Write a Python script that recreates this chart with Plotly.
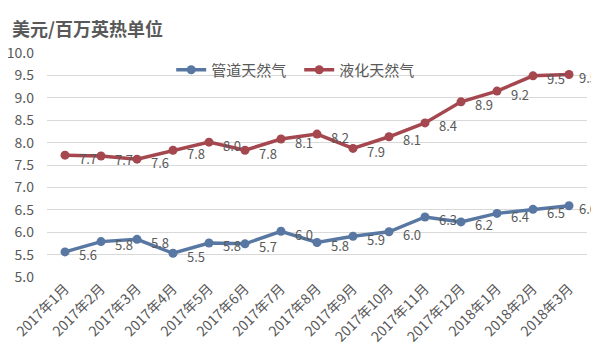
import plotly.graph_objects as go

months = ["2017年1月", "2017年2月", "2017年3月", "2017年4月", "2017年5月", "2017年6月",
          "2017年7月", "2017年8月", "2017年9月", "2017年10月", "2017年11月", "2017年12月",
          "2018年1月", "2018年2月", "2018年3月"]
pipeline = [5.56, 5.79, 5.84, 5.53, 5.76, 5.74, 6.02, 5.77, 5.91, 6.01, 6.34, 6.23, 6.42, 6.51, 6.59]
lng = [7.72, 7.70, 7.63, 7.83, 8.01, 7.83, 8.08, 8.19, 7.87, 8.13, 8.44, 8.91, 9.15, 9.49, 9.52]
series_names = ["管道天然气", "液化天然气"]
colors = ["#5878a3", "#a5474f"]
y_ticks = [5.0, 5.5, 6.0, 6.5, 7.0, 7.5, 8.0, 8.5, 9.0, 9.5, 10.0]
title_text = "美元/百万英热单位"

font = "Noto Sans CJK SC, Noto Sans, sans-serif"
grey = "#595959"

fig = go.Figure()
for name, vals, col in zip(series_names, [pipeline, lng], colors):
    fig.add_trace(go.Scatter(
        x=months, y=vals, name=name, mode="lines+markers",
        line=dict(color=col, width=3.5),
        marker=dict(color=col, size=9),
    ))

annotations = []
for vals in [pipeline, lng]:
    n = len(vals)
    for i, (m, v) in enumerate(zip(months, vals)):
        annotations.append(dict(
            x=m, y=v, xref="x", yref="y", text=f"{v:.1f}", showarrow=False,
            xshift=23 if i < n - 1 else 19, yshift=-3,
            font=dict(family=font, size=13, color=grey),
        ))

annotations.append(dict(
    xref="paper", yref="paper", x=0, y=1, xanchor="left", yanchor="middle",
    text=f"<b>{title_text}</b>", showarrow=False, xshift=-37, yshift=25,
    font=dict(family=font, size=18, color=grey),
))

# page has an 8px body margin, so the figure is sized/positioned to compensate
fig.update_layout(
    width=591, height=348,
    margin=dict(l=39, r=12, t=45, b=79, autoexpand=False),
    paper_bgcolor="white", plot_bgcolor="white",
    showlegend=True,
    legend=dict(
        orientation="h", x=0.23, y=0.924, xanchor="left", yanchor="middle",
        font=dict(family=font, size=15, color=grey),
        bgcolor="rgba(0,0,0,0)", entrywidth=83, entrywidthmode="pixels",
    ),
    annotations=annotations,
    font=dict(family=font, color=grey),
)
fig.update_xaxes(
    type="category", range=[-0.5, 14.5], tickangle=-45,
    showgrid=False, showline=False, ticks="", automargin=False,
    tickfont=dict(family=font, size=14, color=grey),
)
fig.update_yaxes(
    range=[5.0, 10.0], tickvals=y_ticks, ticktext=[f"{t:.1f}" for t in y_ticks],
    showgrid=True, gridcolor="#d9d9d9", gridwidth=1, zeroline=False, showline=False,
    tickfont=dict(family=font, size=14, color=grey), ticks="", ticklabelstandoff=12,
    automargin=False,
)
fig.write_html("out.html")
